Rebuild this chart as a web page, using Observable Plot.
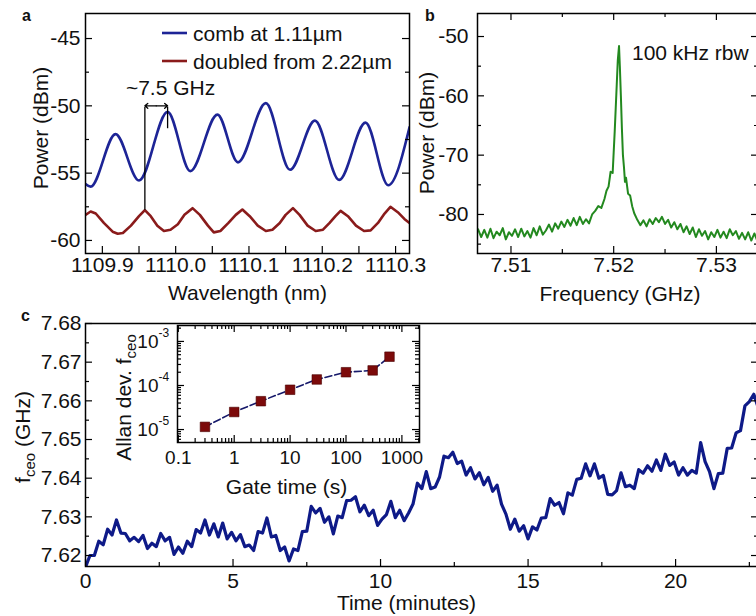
<!DOCTYPE html>
<html>
<head>
<meta charset="utf-8">
<script src="https://cdn.jsdelivr.net/npm/d3@7"></script>
<script src="https://cdn.jsdelivr.net/npm/@observablehq/plot@0.6"></script>
<style>
  html, body { margin: 0; padding: 0; background: #fff; }
  #fig { position: relative; width: 756px; height: 616px; overflow: hidden; background: #fff; }
</style>
</head>
<body>
<div id="fig"></div>
<script>
// ---------------- DATA ----------------
// Panel a: optical spectra (wavelength nm, power dBm)
const combSpectrum = [
  [1109.877, -55.8], [1109.884, -56.0], [1109.918, -52.1], [1109.950, -55.55], [1109.989, -50.45],
  [1110.020, -54.85], [1110.057, -50.65], [1110.085, -54.2], [1110.123, -49.8], [1110.156, -54.75],
  [1110.190, -51.1], [1110.223, -55.5], [1110.259, -51.25], [1110.290, -55.9], [1110.319, -51.6]
];
const doubledNm = [1109.877,1109.884,1109.891,1109.902,1109.914,1109.921,1109.928,1109.939,1109.950,1109.958,
  1109.966,1109.975,1109.984,1109.993,1110.003,1110.012,1110.023,1110.033,1110.044,1110.052,
  1110.061,1110.072,1110.082,1110.091,1110.101,1110.112,1110.123,1110.132,1110.142,1110.150,
  1110.160,1110.169,1110.180,1110.191,1110.201,1110.210,1110.218,1110.225,1110.235,1110.246,
  1110.257,1110.266,1110.276,1110.285,1110.293,1110.303,1110.312,1110.319];
const doubledDbm = [-58.1,-57.85,-58.0,-58.7,-59.35,-59.5,-59.45,-58.9,-58.2,-57.75,
  -58.2,-58.9,-59.3,-59.2,-58.8,-58.1,-57.6,-58.1,-58.9,-59.4,
  -59.3,-58.7,-58.1,-57.7,-58.2,-58.9,-59.3,-59.2,-58.7,-58.1,
  -57.6,-58.1,-58.9,-59.3,-59.2,-58.7,-58.2,-57.8,-58.2,-58.9,
  -59.3,-59.25,-58.7,-58.0,-57.5,-57.9,-58.4,-58.7];
// line spacing annotation (nm, dBm)
const spacingFrom = 1109.958, spacingTo = 1109.989, spacingLevel = -50, spacingBase = -57.75, spacingTipLow = -51.7;
const spacingLabel = {text: "~7.5 GHz", x: 1109.993};

// Panel b: RF beat note (GHz, dBm)
const beatSpectrum = [
  [7.5068,-82.5],[7.5071,-83.8],[7.5074,-82.6],[7.5077,-83.9],[7.5080,-82.4],[7.5083,-84.0],[7.5086,-82.9],[7.5089,-83.5],
  [7.5092,-82.3],[7.5095,-84.2],[7.5098,-83.0],[7.5101,-83.6],[7.5104,-82.5],[7.5107,-83.8],[7.5110,-82.4],[7.5113,-83.7],
  [7.5116,-82.8],[7.5119,-83.9],[7.5122,-82.3],[7.5125,-83.5],[7.5128,-82.0],[7.5131,-83.4],[7.5134,-82.7],[7.5137,-81.7],
  [7.5140,-82.9],[7.5143,-81.5],[7.5146,-82.4],[7.5149,-81.2],[7.5152,-82.1],[7.5155,-80.9],[7.5158,-81.9],[7.5161,-80.6],
  [7.5164,-81.8],[7.5167,-80.4],[7.5170,-81.6],[7.5173,-80.8],[7.5176,-81.5],[7.5179,-80.0],[7.5182,-79.4],[7.5185,-78.6],
  [7.5188,-78.9],[7.5191,-77.4],[7.5193,-76.0],[7.5195,-75.3],[7.5197,-72.8],[7.5199,-73.0],[7.5200,-69.5],[7.5201,-66.0],
  [7.5202,-62.0],[7.5203,-58.0],[7.5204,-54.0],[7.52052,-51.6],[7.5206,-55.0],[7.5207,-60.0],[7.5208,-65.5],[7.5209,-70.0],
  [7.5210,-72.0],[7.5211,-74.5],[7.5212,-73.8],[7.5214,-76.5],[7.5216,-76.8],[7.5218,-78.6],[7.5220,-79.8],[7.5223,-80.9],
  [7.5226,-81.8],[7.5229,-81.0],[7.5232,-82.0],[7.5235,-80.8],[7.5238,-81.6],[7.5241,-80.6],[7.5244,-81.3],[7.5247,-80.4],
  [7.5250,-81.6],[7.5253,-80.9],[7.5256,-82.2],[7.5259,-81.3],[7.5262,-82.5],[7.5265,-81.6],[7.5268,-83.0],[7.5271,-82.0],
  [7.5274,-83.3],[7.5277,-82.2],[7.5280,-83.8],[7.5283,-82.5],[7.5286,-83.6],[7.5289,-82.8],[7.5292,-84.2],[7.5295,-83.0],
  [7.5298,-83.8],[7.5301,-82.6],[7.5304,-83.9],[7.5307,-82.9],[7.5310,-84.0],[7.5313,-82.5],[7.5316,-83.5],[7.5319,-82.8],
  [7.5322,-84.1],[7.5325,-83.1],[7.5328,-84.2],[7.5331,-83.0],[7.5334,-84.4],[7.5337,-83.2],[7.5340,-84.5]
];

// Panel c: f_ceo vs time, sampled every 0.15 min from 0 (GHz)
const fceoStepMin = 0.15;
const fceoValues = [
  7.6170,7.6200,7.6200,7.6237,7.6228,7.6268,7.6253,7.6292,7.6258,7.6257,
  7.6238,7.6247,7.6236,7.6252,7.6218,7.6232,7.6223,7.6257,7.6238,7.6247,
  7.6203,7.6222,7.6206,7.6237,7.6223,7.6267,7.6258,7.6292,7.6253,7.6282,
  7.6248,7.6284,7.6243,7.6260,7.6238,7.6254,7.6223,7.6227,7.6213,7.6262,
  7.6258,7.6297,7.6248,7.6252,7.6213,7.6222,7.6186,7.6217,7.6213,7.6262,
  7.6263,7.6327,7.6310,7.6322,7.6286,7.6300,7.6256,7.6302,7.6298,7.6342,
  7.6343,7.6352,7.6313,7.6330,7.6303,7.6317,7.6278,7.6294,7.6306,7.6340,
  7.6298,7.6317,7.6290,7.6310,7.6333,7.6387,7.6373,7.6417,7.6373,7.6377,
  7.6403,7.6457,7.6453,7.6467,7.6438,7.6444,7.6408,7.6427,7.6398,7.6414,
  7.6383,7.6402,7.6366,7.6382,7.6333,7.6307,7.6268,7.6294,7.6263,7.6277,
  7.6243,7.6274,7.6266,7.6297,7.6298,7.6347,7.6330,7.6337,7.6308,7.6362,
  7.6356,7.6397,7.6400,7.6437,7.6406,7.6437,7.6400,7.6407,7.6358,7.6357,
  7.6368,7.6414,7.6378,7.6382,7.6373,7.6422,7.6413,7.6432,7.6418,7.6447,
  7.6420,7.6462,7.6433,7.6442,7.6408,7.6427,7.6408,7.6420,7.6413,7.6492,
  7.6443,7.6417,7.6373,7.6412,7.6413,7.6477,7.6478,7.6517,7.6523,7.6587,
  7.6598,7.6617,7.6583
];

// Inset: Allan deviation
const gateTime = [0.3, 1, 3, 10, 30, 100, 300, 600];
const allanDev = [1.15e-5, 2.5e-5, 4.4e-5, 8.0e-5, 1.37e-4, 2.0e-4, 2.2e-4, 4.5e-4];

// Tick values
const aXTicks = [1109.9, 1110.0, 1110.1, 1110.2, 1110.3], aXMinor = [1109.95, 1110.05, 1110.15, 1110.25];
const aYTicks = [-45, -50, -55, -60], aYMinor = [-47.5, -52.5, -57.5];
const bXTicks = [7.51, 7.52, 7.53], bXMinor = [7.515, 7.525];
const bYTicks = [-50, -60, -70, -80], bYMinor = [-55, -65, -75, -85];
const cXTicks = [0, 5, 10, 15, 20], cXMinor = [2.5, 7.5, 12.5, 17.5, 22.5];
const cYTicks = [7.62, 7.63, 7.64, 7.65, 7.66, 7.67, 7.68], cYMinor = [7.625, 7.635, 7.645, 7.655, 7.665, 7.675];
const insetXTicks = [0.1, 1, 10, 100, 1000];
const insetYTicks = [1e-5, 1e-4, 1e-3];

// ---------------- STYLE ----------------
const FONT = "'Liberation Sans', Arial, Helvetica, sans-serif";
const BLUE = "#1d2496", RED = "#8a1b1b", GREEN = "#23891f", NAVY = "#0e1a88", SQUARE = "#7c0a0a";
const fig = document.getElementById("fig");
const styleOf = (size) => ({fontFamily: FONT, fontSize: size + "px", color: "#111", background: "transparent", overflow: "visible", maxWidth: "none"});

function place(node, left, top) {
  const d = document.createElement("div");
  d.style.cssText = `position:absolute;left:${left}px;top:${top}px;`;
  d.appendChild(node);
  fig.appendChild(d);
}
function sideTicks(side, values, len, FW, FH) {
  const o = {stroke: "#000", strokeWidth: 1.2};
  if (side === "bottom") return Plot.tickX(values, {x: d => d, insetTop: FH - len, ...o});
  if (side === "top") return Plot.tickX(values, {x: d => d, insetBottom: FH - len, ...o});
  if (side === "left") return Plot.tickY(values, {y: d => d, insetRight: FW - len, ...o});
  return Plot.tickY(values, {y: d => d, insetLeft: FW - len, ...o});
}
const MAJ = 7, MIN = 4;

// ---------------- PANEL C (main) ----------------
{
  const W = 760, H = 316, ML = 85, MR = 2, MT = 23, MB = 50;
  const FW = W - ML - MR, FH = H - MT - MB;
  const data = fceoValues.map((v, i) => ({t: i * fceoStepMin, f: v}));
  const p = Plot.plot({
    width: W, height: H, marginLeft: ML, marginRight: MR, marginTop: MT, marginBottom: MB,
    style: styleOf(21),
    x: {domain: [0, 22.81]},
    y: {domain: [7.61716, 7.68]},
    marks: [
      Plot.line(data, {x: "t", y: "f", stroke: NAVY, strokeWidth: 3.2, strokeLinejoin: "round", clip: true}),
      sideTicks("bottom", cXTicks, MAJ, FW, FH), sideTicks("bottom", cXMinor, MIN, FW, FH),
      sideTicks("left", cYTicks, MAJ, FW, FH), sideTicks("left", cYMinor, MIN, FW, FH),
      sideTicks("right", cYTicks, MAJ, FW, FH), sideTicks("right", cYMinor, MIN, FW, FH),
      Plot.axisX({ticks: cXTicks, tickSize: 0, tickPadding: 7, tickFormat: d => String(d), label: null}),
      Plot.axisY({ticks: cYTicks, tickSize: 0, tickPadding: 4, tickFormat: d => d.toFixed(2), label: null}),
      Plot.frame({stroke: "#000", strokeWidth: 1.5})
    ]
  });
  place(p, 0, 300);
}

// ---------------- INSET ----------------
{
  const W = 330, H = 200, ML = 77, MR = 11, MT = 7, MB = 76;
  const FW = W - ML - MR, FH = H - MT - MB;
  const xDomain = [0.0967, 2065], yDomain = [5.08e-6, 2.3e-3];
  const minorX = [], minorY = [];
  for (const d of [0.1, 1, 10, 100, 1000]) for (let k = 2; k <= 9; k++) { const v = d * k; if (v > xDomain[0] && v < xDomain[1]) minorX.push(v); }
  for (const d of [1e-6, 1e-5, 1e-4, 1e-3]) for (let k = 2; k <= 9; k++) { const v = d * k; if (v > yDomain[0] && v < yDomain[1]) minorY.push(v); }
  const pts = gateTime.map((g, i) => ({g, a: allanDev[i]}));
  const p = Plot.plot({
    width: W, height: H, marginLeft: ML, marginRight: MR, marginTop: MT, marginBottom: MB,
    style: styleOf(19),
    x: {type: "log", domain: xDomain, axis: null},
    y: {type: "log", domain: yDomain, axis: null},
    marks: [
      Plot.frame({fill: "white", stroke: null}),
      Plot.line(pts, {x: "g", y: "a", stroke: "#16196a", strokeWidth: 1.6, strokeDasharray: "7,3"}),
      Plot.dot(pts, {x: "g", y: "a", symbol: "square", r: 5.4, fill: SQUARE, stroke: "#4a0000", strokeWidth: 0.6}),
      sideTicks("bottom", insetXTicks, MAJ, FW, FH), sideTicks("bottom", minorX, MIN, FW, FH),
      sideTicks("top", insetXTicks, MAJ, FW, FH), sideTicks("top", minorX, MIN, FW, FH),
      sideTicks("left", insetYTicks, MAJ, FW, FH), sideTicks("left", minorY, MIN, FW, FH),
      sideTicks("right", insetYTicks, MAJ, FW, FH), sideTicks("right", minorY, MIN, FW, FH),
      Plot.axisX({ticks: insetXTicks, tickSize: 0, tickPadding: 8, tickFormat: d => String(d), label: null}),
      Plot.text(insetYTicks, {y: d => d, frameAnchor: "left", text: () => "10", textAnchor: "end", lineAnchor: "middle", dx: -19}),
      Plot.text(insetYTicks, {y: d => d, frameAnchor: "left", text: d => String(Math.round(Math.log10(d))), textAnchor: "start", lineAnchor: "middle", dx: -19, dy: -8, fontSize: 12}),
      Plot.frame({stroke: "#000", strokeWidth: 1.5})
    ]
  });
  place(p, 100, 318);
}

// ---------------- PANEL A ----------------
{
  const W = 420, H = 310, ML = 85, MR = 11, MT = 13, MB = 57;
  const FW = W - ML - MR, FH = H - MT - MB;
  const comb = combSpectrum.map(([x, y]) => ({x, y}));
  const doubled = doubledNm.map((x, i) => ({x, y: doubledDbm[i]}));
  const mid = (spacingFrom + spacingTo) / 2;
  const p = Plot.plot({
    width: W, height: H, marginLeft: ML, marginRight: MR, marginTop: MT, marginBottom: MB,
    style: styleOf(21),
    x: {domain: [1109.877, 1110.319]},
    y: {domain: [-60.97, -43.14]},
    marks: [
      Plot.line(comb, {x: "x", y: "y", stroke: BLUE, strokeWidth: 2.6, curve: "monotone-x", clip: true}),
      Plot.line(doubled, {x: "x", y: "y", stroke: RED, strokeWidth: 2.6, strokeLinejoin: "round", clip: true}),
      Plot.ruleX([spacingFrom], {x: d => d, y1: spacingBase, y2: spacingLevel - 0.1, stroke: "#000", strokeWidth: 1.3}),
      Plot.ruleX([spacingTo], {x: d => d, y1: spacingTipLow, y2: spacingLevel - 0.1, stroke: "#000", strokeWidth: 1.3}),
      Plot.arrow([spacingFrom, spacingTo], {x1: () => mid, x2: d => d, y1: () => spacingLevel, y2: () => spacingLevel, headLength: 5, headAngle: 80, stroke: "#000", strokeWidth: 1.3}),
      Plot.text([spacingLabel], {x: "x", y: () => spacingLevel, text: "text", lineAnchor: "middle", dy: -17.5, fill: "#111"}),
      sideTicks("bottom", aXTicks, MAJ, FW, FH), sideTicks("bottom", aXMinor, MAJ, FW, FH),
      sideTicks("left", aYTicks, MAJ, FW, FH), sideTicks("left", aYMinor, MIN, FW, FH),
      sideTicks("right", aYTicks, MAJ, FW, FH), sideTicks("right", aYMinor, MIN, FW, FH),
      Plot.axisX({ticks: aXTicks, tickSize: 0, tickPadding: 4, tickFormat: d => d.toFixed(1), label: null}),
      Plot.axisY({ticks: aYTicks, tickSize: 0, tickPadding: 5, tickFormat: d => String(d), label: null}),
      Plot.frame({stroke: "#000", strokeWidth: 1.5})
    ]
  });
  place(p, 0, 0);
}

// ---------------- PANEL B ----------------
{
  const W = 340, H = 310, ML = 57, MR = 2, MT = 13, MB = 57;
  const FW = W - ML - MR, FH = H - MT - MB;
  const beat = beatSpectrum.map(([x, y]) => ({x, y}));
  const p = Plot.plot({
    width: W, height: H, marginLeft: ML, marginRight: MR, marginTop: MT, marginBottom: MB,
    style: styleOf(21),
    x: {domain: [7.50674, 7.5341]},
    y: {domain: [-86.58, -46.12]},
    marks: [
      Plot.line(beat, {x: "x", y: "y", stroke: GREEN, strokeWidth: 2, strokeLinejoin: "round", clip: true}),
      sideTicks("bottom", bXTicks, MAJ, FW, FH), sideTicks("bottom", bXMinor, MIN, FW, FH),
      sideTicks("top", bXTicks, MAJ, FW, FH), sideTicks("top", bXMinor, MIN, FW, FH),
      sideTicks("left", bYTicks, MAJ, FW, FH), sideTicks("left", bYMinor, MIN, FW, FH),
      sideTicks("right", bYTicks, MAJ, FW, FH), sideTicks("right", bYMinor, MIN, FW, FH),
      Plot.axisX({ticks: bXTicks, tickSize: 0, tickPadding: 4, tickFormat: d => d.toFixed(2), label: null}),
      Plot.axisY({ticks: bYTicks, tickSize: 0, tickPadding: 9, tickFormat: d => String(d), label: null}),
      Plot.frame({stroke: "#000", strokeWidth: 1.5})
    ]
  });
  place(p, 420, 0);
}

// ---------------- OVERLAY TEXT ----------------
{
  const svg = d3.create("svg").attr("width", 756).attr("height", 616)
    .style("position", "absolute").style("left", "0px").style("top", "0px")
    .style("font-family", FONT).style("pointer-events", "none");
  function rich(x, y, parts, {size = 21, anchor = "start", rotate = 0, weight = null} = {}) {
    const t = svg.append("text").attr("transform", `translate(${x},${y}) rotate(${rotate})`)
      .attr("text-anchor", anchor).attr("font-size", size).attr("fill", "#111");
    if (weight) t.attr("font-weight", weight);
    let shift = 0;
    for (const part of parts) {
      const [s, kind] = Array.isArray(part) ? part : [part];
      const target = kind === "sub" ? 5 : 0;
      const ts = t.append("tspan").text(s).attr("dy", target - shift);
      if (kind === "sub") ts.attr("font-size", Math.round(size * 0.72));
      shift = target;
    }
  }
  // panel letters
  rich(22, 21, ["a"], {size: 16, weight: "bold"});
  rich(425, 21, ["b"], {size: 16, weight: "bold"});
  rich(21, 321, ["c"], {size: 16, weight: "bold"});
  // legend panel a
  svg.append("line").attr("x1", 162).attr("x2", 187).attr("y1", 33).attr("y2", 33).attr("stroke", BLUE).attr("stroke-width", 2.6);
  svg.append("line").attr("x1", 162).attr("x2", 187).attr("y1", 61).attr("y2", 61).attr("stroke", RED).attr("stroke-width", 2.6);
  rich(193, 40.5, ["comb at 1.11µm"]);
  rich(193, 68.5, ["doubled from 2.22µm"]);
  rich(632, 60, ["100 kHz rbw"]);
  // axis titles
  rich(48, 128, ["Power (dBm)"], {anchor: "middle", rotate: -90});
  rich(247.5, 300, ["Wavelength (nm)"], {anchor: "middle"});
  rich(434, 133, ["Power (dBm)"], {anchor: "middle", rotate: -90});
  rich(620, 301, ["Frequency (GHz)"], {anchor: "middle"});
  rich(30, 437, ["f", ["ceo", "sub"], " (GHz)"], {anchor: "middle", rotate: -90});
  rich(406.5, 610, ["Time (minutes)"], {anchor: "middle"});
  rich(131, 397.5, ["Allan dev. f", ["ceo", "sub"]], {anchor: "middle", rotate: -90});
  rich(286.5, 494, ["Gate time (s)"], {anchor: "middle"});
  fig.appendChild(svg.node());
}
</script>
</body>
</html>
